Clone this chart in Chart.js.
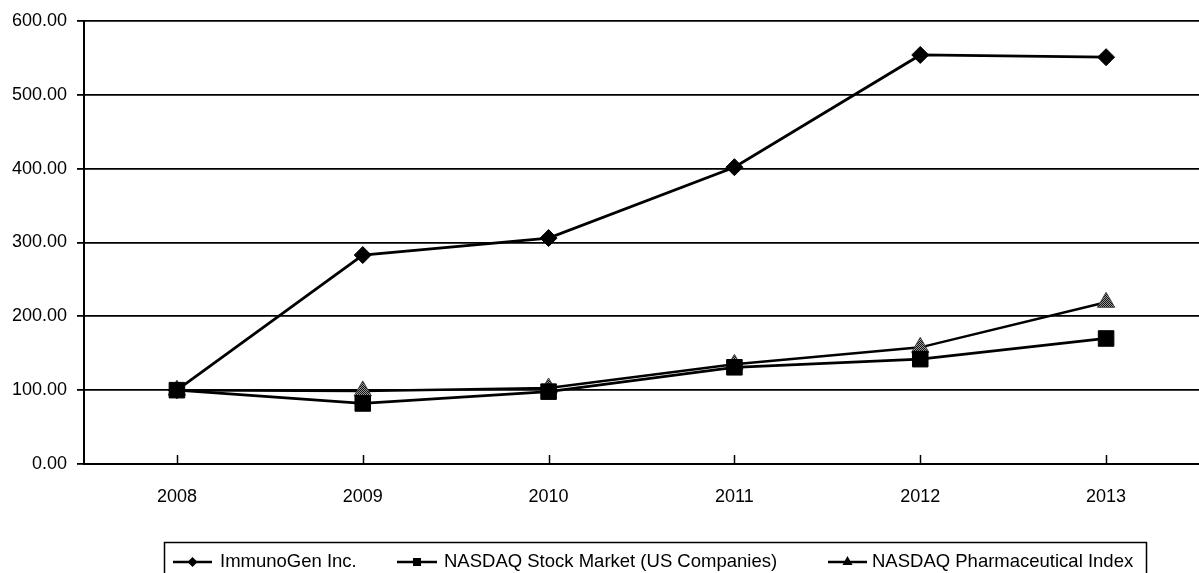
<!DOCTYPE html>
<html>
<head>
<meta charset="utf-8">
<script src="https://cdn.jsdelivr.net/npm/chart.js@4.4.1/dist/chart.umd.min.js"></script>
<style>
  html, body { margin: 0; padding: 0; background: #fff; overflow: hidden; }
  #wrap { width: 1211px; height: 573px; }
</style>
</head>
<body>
<div id="wrap"><canvas id="chart" width="1211" height="573"></canvas></div>
<script>
// Cumulative total return values
const years = ['2008', '2009', '2010', '2011', '2012', '2013'];
const immunogen = [100, 283, 306, 402, 554, 551];
const nasdaqMarket = [100, 82, 98, 131, 142, 170];
const nasdaqPharma = [100, 99, 103, 135, 158, 219];
const seriesNames = ['ImmunoGen Inc.', 'NASDAQ Stock Market (US Companies)', 'NASDAQ Pharmaceutical Index'];
const yTicks = [0, 100, 200, 300, 400, 500, 600];

const FONT = '"Liberation Sans", Arial, Helvetica, sans-serif';

// halftone grey fill used for the triangles
function makeDots() {
  const c = document.createElement('canvas');
  c.width = 2; c.height = 2;
  const g = c.getContext('2d');
  g.fillStyle = '#9a9a9a';
  g.fillRect(0, 0, 2, 2);
  g.fillStyle = '#111';
  g.fillRect(0, 0, 1, 1);
  g.fillRect(1, 1, 1, 1);
  return g.createPattern(c, 'repeat');
}
const dots = makeDots();

// small tick marks pointing up into the plot at each year
const innerTicks = {
  id: 'innerTicks',
  afterDatasetsDraw(chart) {
    const ctx = chart.ctx;
    const x = chart.scales.x;
    const bottom = chart.chartArea.bottom;
    ctx.save();
    ctx.strokeStyle = '#000';
    ctx.lineWidth = 1.5;
    x.ticks.forEach((t, i) => {
      const px = Math.round(x.getPixelForTick(i)) + 0.5;
      ctx.beginPath();
      ctx.moveTo(px, bottom - 9);
      ctx.lineTo(px, bottom);
      ctx.stroke();
    });
    ctx.restore();
  }
};

// boxed legend drawn with line + marker samples
const boxLegend = {
  id: 'boxLegend',
  afterDraw(chart) {
    const ctx = chart.ctx;
    const items = [
      { x1: 173, x2: 212, tx: 220, shape: 'diamond' },
      { x1: 397, x2: 437, tx: 444, shape: 'square' },
      { x1: 828, x2: 867, tx: 872, shape: 'triangle' }
    ];
    const ly = 562;
    ctx.save();
    ctx.strokeStyle = '#000';
    ctx.lineWidth = 1.5;
    ctx.strokeRect(164.5, 542.5, 982, 40);
    ctx.font = '18.5px ' + FONT;
    ctx.fillStyle = '#000';
    ctx.textBaseline = 'alphabetic';
    items.forEach((it, i) => {
      ctx.lineWidth = 2.5;
      ctx.beginPath();
      ctx.moveTo(it.x1, ly);
      ctx.lineTo(it.x2, ly);
      ctx.stroke();
      const cx = (it.x1 + it.x2) / 2;
      ctx.beginPath();
      if (it.shape === 'diamond') {
        ctx.moveTo(cx, ly - 5); ctx.lineTo(cx + 5, ly); ctx.lineTo(cx, ly + 5); ctx.lineTo(cx - 5, ly);
      } else if (it.shape === 'square') {
        ctx.rect(cx - 4, ly - 4, 8, 8);
      } else {
        ctx.moveTo(cx, ly - 6); ctx.lineTo(cx + 5, ly + 3); ctx.lineTo(cx - 5, ly + 3);
      }
      ctx.closePath();
      ctx.fill();
      ctx.fillText(chart.data.datasets[i].label, it.tx, 567);
    });
    ctx.restore();
  }
};

new Chart(document.getElementById('chart'), {
  type: 'line',
  data: {
    labels: years,
    datasets: [
      {
        label: seriesNames[0],
        data: immunogen,
        borderColor: '#000',
        borderWidth: 2.8,
        pointStyle: 'rectRot',
        pointRadius: 8.5,
        pointBackgroundColor: '#000',
        pointBorderColor: '#000',
        pointBorderWidth: 1,
        tension: 0
      },
      {
        label: seriesNames[1],
        data: nasdaqMarket,
        borderColor: '#000',
        borderWidth: 2.8,
        pointStyle: 'rect',
        pointRadius: 11,
        pointBackgroundColor: '#000',
        pointBorderColor: '#000',
        pointBorderWidth: 1,
        tension: 0
      },
      {
        label: seriesNames[2],
        data: nasdaqPharma,
        borderColor: '#000',
        borderWidth: 2.5,
        pointStyle: 'triangle',
        pointRadius: 10,
        pointBackgroundColor: dots,
        pointBorderColor: '#444',
        pointBorderWidth: 1,
        tension: 0
      }
    ]
  },
  options: {
    responsive: false,
    animation: false,
    events: [],
    layout: {
      padding: { top: 21, right: 0, bottom: 60, left: 0 }
    },
    plugins: {
      legend: { display: false },
      tooltip: { enabled: false }
    },
    scales: {
      x: {
        type: 'category',
        offset: true,
        grid: { display: false },
        border: { display: true, color: '#000', width: 2 },
        ticks: {
          color: '#000',
          padding: 14,
          maxRotation: 0,
          font: { family: FONT, size: 18 }
        },
        afterFit(scale) { scale.height = 49; }
      },
      y: {
        min: yTicks[0],
        max: yTicks[yTicks.length - 1],
        afterBuildTicks(scale) { scale.ticks = yTicks.map(v => ({ value: v })); },
        grid: {
          color: '#000',
          lineWidth: 1.8,
          tickLength: 7,
          drawTicks: true
        },
        border: { display: true, color: '#000', width: 2 },
        ticks: {
          color: '#000',
          padding: 10,
          font: { family: FONT, size: 18 },
          callback: v => Number(v).toFixed(2)
        },
        afterFit(scale) { scale.width = 84; }
      }
    }
  },
  plugins: [innerTicks, boxLegend]
});
</script>
</body>
</html>
